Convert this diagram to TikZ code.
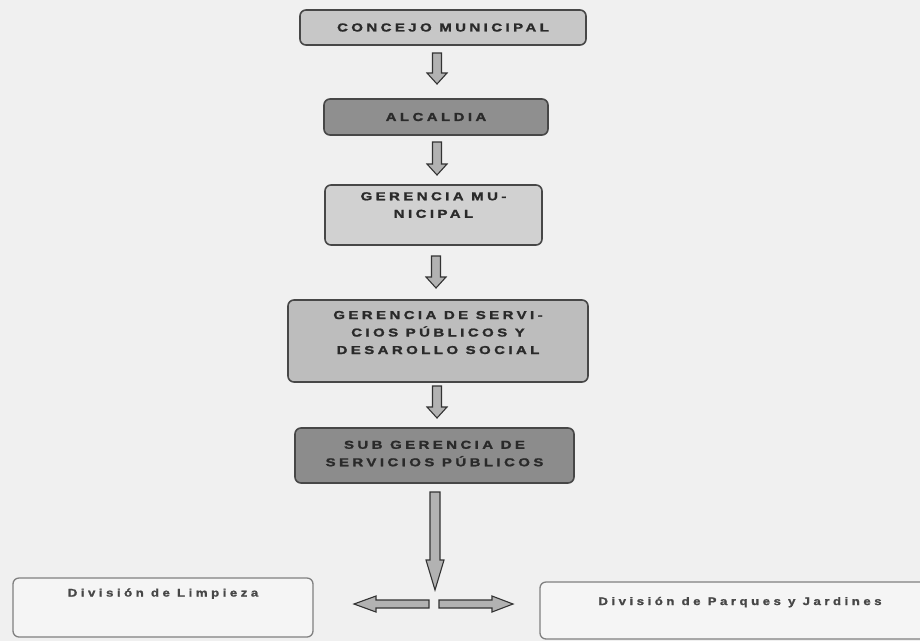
\documentclass[tikz,border=0pt]{standalone}
\usepackage{fontspec}
\setmainfont{Liberation Sans}
\newfontfamily\spacedfont[LetterSpace=30,FakeBold=1.6,FakeStretch=1.3]{Liberation Sans}
\newfontfamily\divfont[LetterSpace=32,FakeBold=1.4,FakeStretch=1.2]{Liberation Sans}
\usetikzlibrary{calc}
\definecolor{bgc}{HTML}{F0F0F0}
\definecolor{edgec}{HTML}{474747}
\definecolor{txtc}{HTML}{2A2A2A}
\tikzset{
  orgbox/.style={draw=edgec, line width=1.6pt, rounded corners=6pt, align=center,
    font=\spacedfont\bfseries\fontsize{11.5}{17.5}\selectfont, text=txtc, inner sep=0pt},
  divbox/.style={draw=black!50, line width=1.3pt, rounded corners=6pt, fill=white!96!black,
    font=\divfont\bfseries\fontsize{11}{14}\selectfont, text=black!72, inner sep=0pt},
  barrow/.style={draw=black!80, line width=1.1pt, fill=black!30, line join=miter}
}
% #1 start, #2 end (tip), #3 shaft half width, #4 head half width, #5 head length
\newcommand\blockarrow[5]{%
  \coordinate (hb) at ($(#2)!#5!(#1)$);
  \draw[barrow] ($(#1)!#3!-90:(#2)$) -- ($(#1)!#3!90:(#2)$)
    -- ($(hb)!#3!90:(#2)$) -- ($(hb)!#4!90:(#2)$) -- (#2)
    -- ($(hb)!#4!-90:(#2)$) -- ($(hb)!#3!-90:(#2)$) -- cycle;}
\begin{document}
\begin{tikzpicture}[x=1pt,y=-1pt]
\fill[bgc] (0,0) rectangle (920,641);
\useasboundingbox (0,0) rectangle (920,641);

\node[orgbox, fill=black!22, minimum width=286pt, minimum height=35pt] (b1) at (443,27.5) {CONCEJO MUNICIPAL};
\node[orgbox, fill=black!44, minimum width=224pt, minimum height=36pt] (b2) at (436,117) {ALCALDIA};
\node[orgbox, fill=black!18, minimum width=217pt, minimum height=60pt, text depth=20pt] (b3) at (433.5,215) {GERENCIA MU-\\NICIPAL};
\node[orgbox, fill=black!26, minimum width=300pt, minimum height=82pt, text depth=17pt] (b4) at (438,341) {GERENCIA DE SERVI-\\CIOS PÚBLICOS Y\\DESAROLLO SOCIAL};
\node[orgbox, fill=black!45, minimum width=279pt, minimum height=55pt, text depth=4pt] (b5) at (434.5,455.5) {SUB GERENCIA DE\\SERVICIOS PÚBLICOS};

\node[divbox, minimum width=300pt, minimum height=59pt, text depth=30pt] (dl) at (163,607.5) {División de Limpieza};
\node[divbox, minimum width=400pt, minimum height=57pt, text depth=19pt] (dr) at (740,610.5) {División de Parques y Jardines};

\coordinate (a1s) at (437,53);  \coordinate (a1e) at (437,84);
\coordinate (a2s) at (437,142); \coordinate (a2e) at (437,175);
\coordinate (a3s) at (436,256); \coordinate (a3e) at (436,288);
\coordinate (a4s) at (437,386); \coordinate (a4e) at (437,418);
\coordinate (a5s) at (435,492); \coordinate (a5e) at (435,590);
\coordinate (a6s) at (429,604); \coordinate (a6e) at (354,604);
\coordinate (a7s) at (439,604); \coordinate (a7e) at (513,604);

\blockarrow{a1s}{a1e}{4.5pt}{10pt}{11pt}
\blockarrow{a2s}{a2e}{4.5pt}{10pt}{11pt}
\blockarrow{a3s}{a3e}{4.5pt}{10pt}{11pt}
\blockarrow{a4s}{a4e}{4.5pt}{10pt}{11pt}
\blockarrow{a5s}{a5e}{5pt}{9pt}{30pt}
\blockarrow{a6s}{a6e}{4pt}{8pt}{22pt}
\blockarrow{a7s}{a7e}{4pt}{8pt}{21pt}
\end{tikzpicture}
\end{document}
